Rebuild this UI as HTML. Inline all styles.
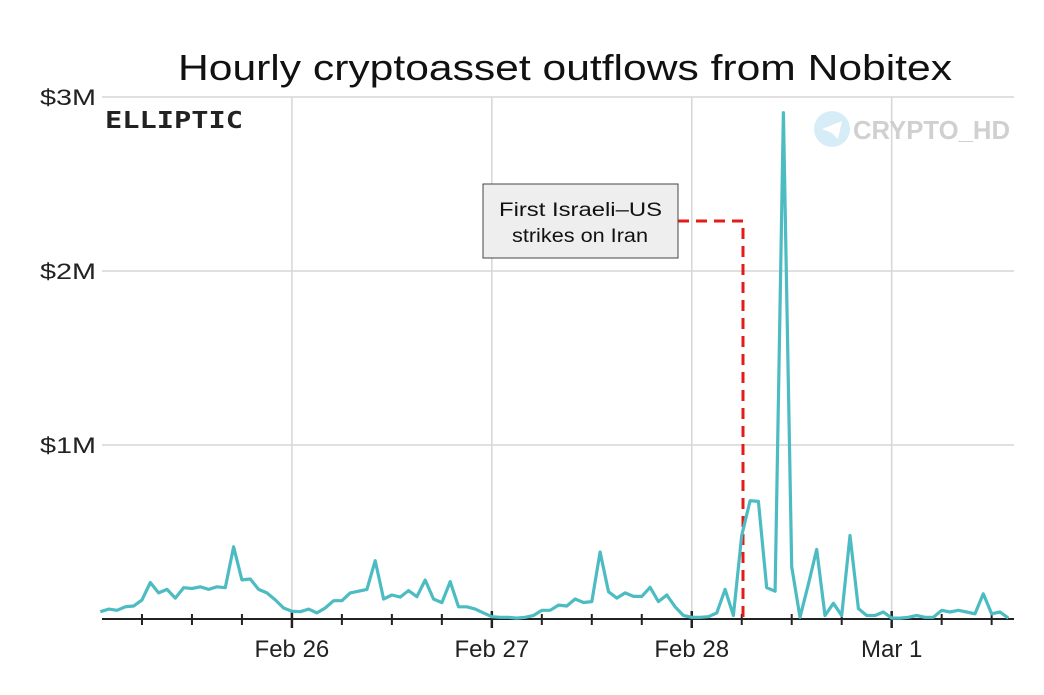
<!DOCTYPE html>
<html><head><meta charset="utf-8"><style>
body{margin:0;background:#fff;width:1044px;height:690px;overflow:hidden;font-family:"Liberation Sans","DejaVu Sans",sans-serif;}
</style></head><body>
<svg width="1044" height="690" xmlns="http://www.w3.org/2000/svg">
<text x="178" y="80" textLength="774" lengthAdjust="spacingAndGlyphs" font-size="36" fill="#111">Hourly cryptoasset outflows from Nobitex</text>
<g id="grid"></g>
<g id="yl"></g>
<g id="xl"></g>
<text x="105" y="128" textLength="138" lengthAdjust="spacingAndGlyphs" font-size="23" font-weight="bold" font-family="'DejaVu Sans Mono','Liberation Mono',monospace" fill="#222">ELLIPTIC</text>
<g opacity="0.85">
<circle cx="832" cy="129" r="18" fill="#cfeaf6"/>
<path d="M822 129 L842 121 L838 139 L832 133 Z" fill="#fff"/>
<text x="853" y="139" textLength="157" lengthAdjust="spacingAndGlyphs" font-size="26" font-weight="bold" fill="#c8c8c8">CRYPTO_HD</text>
</g>
<path id="redline" d="M678 221 H743 V619" fill="none" stroke="#e31b1b" stroke-width="3" stroke-dasharray="11,7"/>
<rect x="483" y="184" width="195" height="74" fill="#eeeeee" stroke="#444" stroke-width="1"/>
<text font-size="19" fill="#111"><tspan x="499" y="216" textLength="163" lengthAdjust="spacingAndGlyphs">First Israeli–US</tspan><tspan x="512" y="242" textLength="136" lengthAdjust="spacingAndGlyphs">strikes on Iran</tspan></text>
<path id="line" fill="none" stroke="#4dbcc2" stroke-width="3.2" stroke-linejoin="round"/>
</svg>
<script>
const hours=[];for(let h=1;h<=110;h++)hours.push(h);
const values=[0.042,0.057,0.05,0.07,0.075,0.11,0.21,0.15,0.17,0.12,0.18,0.175,0.185,0.17,0.185,0.18,0.415,0.225,0.23,0.17,0.15,0.11,0.063,0.045,
0.042,0.057,0.035,0.063,0.105,0.105,0.15,0.16,0.17,0.335,0.115,0.138,0.126,0.163,0.128,0.224,0.115,0.094,0.215,0.07,0.07,0.057,0.035,0.013,
0.01,0.01,0.005,0.01,0.02,0.05,0.05,0.08,0.075,0.115,0.095,0.1,0.385,0.157,0.12,0.15,0.13,0.13,0.182,0.1,0.138,0.07,0.02,0.01,
0.01,0.013,0.035,0.17,0.02,0.48,0.68,0.676,0.18,0.16,2.91,0.3,0.01,0.2,0.4,0.02,0.09,0.02,0.48,0.06,0.02,0.02,
0.04,0.005,0.005,0.01,0.02,0.01,0.01,0.05,0.04,0.05,0.04,0.03,0.145,0.03,0.04,0.005];
const yTicks=[1,2,3];
const yTickLabels=["$1M","$2M","$3M"];
const dayHours=[24,48,72,96];
const dayLabels=["Feb 26","Feb 27","Feb 28","Mar 1"];
const X0=102,X1=1014,Y0=619;
function xs(h){return 92+h*8.33;}
function ys(v){return Y0-v*174;}
const NS="http://www.w3.org/2000/svg";
function mk(t,a,p){const e=document.createElementNS(NS,t);for(const k in a)e.setAttribute(k,a[k]);p.appendChild(e);return e;}
const grid=document.getElementById('grid'),yl=document.getElementById('yl'),xl=document.getElementById('xl');
yTicks.forEach((v,i)=>{
 const l=mk('line',{x1:X0,x2:X1,y1:ys(v),y2:ys(v),stroke:'#d6d6d6','stroke-width':1.5},grid);
 
 
 const t=mk('text',{x:40,y:ys(v)+8,textLength:56,lengthAdjust:'spacingAndGlyphs','font-size':22,fill:'#222'},yl);
 t.textContent=yTickLabels[i];
 
 
});
dayHours.forEach((h,i)=>{
 const l=mk('line',{x1:xs(h),x2:xs(h),y1:97,y2:Y0,stroke:'#d6d6d6','stroke-width':1.5},grid);
 
 
 const t=mk('text',{x:xs(h),y:657,'text-anchor':'middle','font-size':24,fill:'#222'},xl);
 t.textContent=dayLabels[i];
 
 
});
const ax=mk('line',{x1:X0,x2:X1,y1:Y0,y2:Y0,stroke:'#222','stroke-width':2},xl);


for(let h=6;xs(h)<X1;h+=6){
 const major=h%24===0;
 const t=mk('line',{x1:xs(h),x2:xs(h),y1:major?611:614,y2:major?628:625,stroke:'#222','stroke-width':major?2.5:2},xl);
 
 
}
let d='';
hours.forEach((h,i)=>{d+=(i?'L':'M')+xs(h).toFixed(1)+' '+ys(values[i]).toFixed(1)+' ';});
document.getElementById('line').setAttribute('d',d);
</script>
</body></html>
